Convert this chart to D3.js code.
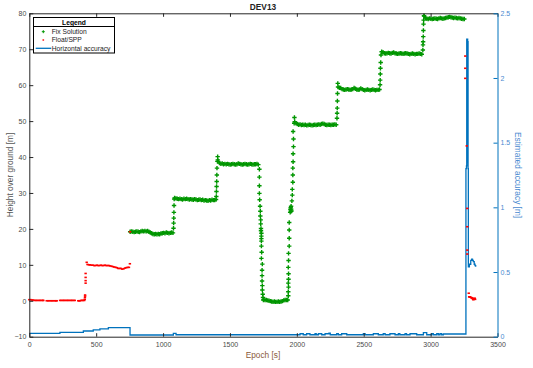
<!DOCTYPE html>
<html>
<head>
<meta charset="utf-8">
<script src="https://cdn.jsdelivr.net/npm/d3@7"></script>
<style>
  body { margin: 0; background: #fff; }
  svg { display: block; font-family: "Liberation Sans", Arial, sans-serif; }
</style>
</head>
<body>
<svg id="chart" width="533" height="368"></svg>
<script>
const width = 533;
const height = 368;

// x ticks / y ticks
const epochTicks = [0, 500, 1000, 1500, 2000, 2500, 3000, 3500];
const heightTicks = [-10, 0, 10, 20, 30, 40, 50, 60, 70, 80];
const accuracyTicks = [0, 0.5, 1, 1.5, 2, 2.5];

// Fix solution plateaus, sampled every 10 s: [start epoch, heights...]
const fixPlateau1 = [754, [19.2, 19.3, 19.2, 19.1, 19.2, 19.3, 19.2, 19.1, 19.3, 19.4, 19.3, 19.4, 19.3, 19.4, 19.2, 19.0, 18.8, 18.6, 18.5, 18.6, 18.5, 18.6, 18.5, 18.7, 18.8, 18.9, 18.8, 19.0, 18.9, 18.8, 18.9, 19.0, 18.9]];
const fixPlateau2 = [1086, [28.6, 28.5, 28.4, 28.3, 28.4, 28.3, 28.2, 28.4, 28.3, 28.4, 28.3, 28.2, 28.3, 28.2, 28.1, 28.3, 28.2, 28.0, 28.1, 28.2, 28.0, 28.1, 27.9, 28.0, 27.9, 27.8, 28.0, 27.9, 28.1, 28.0, 28.0, 28.2]];
const fixPlateau3 = [1412, [38.8, 38.3, 38.1, 38.2, 38.0, 38.1, 38.0, 38.1, 38.0, 37.9, 38.0, 38.1, 38.0, 37.9, 38.0, 38.2, 38.1, 38.0, 37.9, 38.0, 38.1, 38.0, 37.9, 38.0, 38.1, 38.0, 37.9, 38.0, 38.0, 38.1, 37.9]];
const fixPlateau4 = [1752, [0.3, 0.2, 0.2, 0.1, 0.0, -0.1, -0.2, -0.3, -0.2, -0.3, -0.3, -0.2, -0.3, -0.2, -0.1, 0.1, 0.2, 0.2, 0.2]];
const fixPlateau5 = [1984, [49.8, 49.4, 49.2, 49.0, 49.1, 48.9, 49.0, 48.9, 49.0, 48.8, 48.9, 49.0, 48.9, 48.8, 48.9, 49.0, 48.9, 49.0, 49.1, 49.0, 49.2, 49.3, 49.2, 49.0, 48.9, 49.0, 49.0, 48.9, 49.0, 49.0, 49.1, 49.0]];
const fixPlateau6 = [2308, [59.5, 59.3, 59.2, 58.9, 58.8, 58.7, 58.8, 58.9, 58.8, 58.7, 58.8, 58.9, 59.2, 59.0, 58.8, 58.7, 58.8, 59.1, 58.9, 58.7, 58.6, 58.7, 58.8, 58.7, 58.6, 58.7, 58.8, 58.7, 58.6, 58.7, 58.7, 58.8]];
const fixPlateau7 = [2634, [69.3, 69.2, 68.9, 68.8, 68.9, 69.0, 68.9, 68.8, 69.0, 69.1, 68.9, 68.8, 68.7, 68.8, 68.9, 68.8, 68.7, 68.8, 68.9, 68.8, 68.7, 68.6, 68.7, 68.8, 68.7, 68.6, 68.7, 68.7, 68.8, 68.7, 68.6]];
const fixPlateau8 = [2952, [79.2, 78.7, 78.5, 78.4, 78.6, 78.5, 78.4, 78.5, 78.6, 78.5, 78.4, 78.6, 78.7, 78.6, 78.5, 78.6, 78.7, 78.8, 78.9, 79.0, 78.9, 78.8, 78.7, 78.8, 78.7, 78.6, 78.7, 78.6, 78.5, 78.4, 78.4]];

// Fix solution transitions, [epoch, height]
const fixJump1 = [[1078, 20.2], [1079, 21.6], [1080, 23.0], [1081, 24.6], [1082, 26.5], [1083, 28.3]];
const fixJump2 = [[1398, 29.0], [1399, 30.4], [1400, 31.8], [1401, 33.2], [1402, 35.0], [1403, 36.9], [1406, 38.8], [1408, 40.1], [1409, 39.2]];
const fixDrop = [[1720, 36.6], [1720, 34.4], [1720, 32.0], [1720, 29.9], [1722, 28.1], [1725, 26.3], [1727, 24.9], [1727, 23.6], [1730, 22.5], [1730, 21.4], [1732, 20.1], [1732, 19.5], [1735, 18.8], [1735, 18.0], [1735, 17.3], [1735, 16.6], [1735, 15.2], [1737, 13.5], [1735, 11.8], [1742, 10.2], [1740, 8.5], [1740, 7.0], [1740, 5.5], [1742, 4.2], [1742, 3.0], [1745, 1.8], [1747, 0.9], [1750, 0.2]];
const fixRise = [[1936, 1.4], [1936, 2.5], [1938, 3.8], [1936, 4.9], [1938, 6.0], [1938, 7.5], [1936, 9.3], [1938, 11.2], [1938, 13.2], [1943, 15.2], [1943, 17.4], [1943, 19.7], [1943, 21.8], [1950, 24.6], [1952, 25.4], [1954, 25.9], [1955, 24.9], [1957, 26.3], [1958, 25.5], [1960, 25.0], [1963, 27.8], [1966, 29.4], [1966, 31.0], [1970, 33.0], [1970, 35.0], [1970, 36.9], [1972, 38.7], [1972, 40.9], [1975, 42.9], [1975, 45.0], [1972, 47.1], [1980, 49.4], [1982, 51.0]];
const fixJump3 = [[2300, 50.8], [2301, 52.2], [2302, 53.6], [2303, 55.6], [2304, 57.7], [2306, 60.5]];
const fixJump4 = [[2622, 60.1], [2623, 61.4], [2624, 63.1], [2625, 64.7], [2627, 66.3], [2629, 68.4]];
const fixJump5 = [[2942, 69.8], [2943, 71.2], [2944, 72.1], [2945, 73.5], [2946, 75.2], [2947, 77.0], [2948, 78.1], [2950, 79.3]];

// Float/SPP points, [epoch, height]
const floatStart = [[0, 0.3], [10, 0.3], [20, 0.2], [30, 0.2], [40, 0.1], [50, 0.1], [60, 0.1], [70, 0.1], [80, 0.1], [90, 0.1], [100, 0.1], [105, 0.1],
  [130, 0.0], [140, 0.0], [150, 0.0], [160, 0.0], [170, 0.0], [180, 0.0], [190, 0.0], [200, 0.0], [205, 0.0],
  [230, 0.1], [240, 0.1], [250, 0.1], [260, 0.1], [270, 0.1], [280, 0.1], [290, 0.1], [300, 0.1], [310, 0.1], [320, 0.1], [330, 0.1], [340, 0.1],
  [366, 0.0], [372, 0.0], [378, 0.0], [387, 0.1], [395, 0.1], [403, 0.1], [411, 0.1],
  [415, 0.4], [416, 0.9], [417, 1.3], [417, 1.6], [421, 4.9], [421, 5.6], [421, 6.5], [421, 7.6]];
const floatMid = [[429, 10.7], [435, 10.1], [445, 10.0], [455, 10.0], [465, 9.9], [475, 9.9], [485, 9.8], [495, 9.8], [505, 9.9], [515, 9.8], [525, 9.8], [535, 9.9], [545, 9.8], [555, 9.8], [565, 9.9], [575, 9.8], [585, 9.8], [595, 9.8], [605, 9.7], [615, 9.6], [625, 9.5], [635, 9.4], [645, 9.3], [655, 9.2], [665, 9.0], [675, 9.0], [685, 9.0], [695, 8.8], [705, 8.9], [715, 9.1], [725, 9.2], [735, 9.3], [745, 9.3], [752, 10.3], [753, 19.2]];
const floatEnd = [[3259, 68.1], [3259, 64.7], [3259, 61.9], [3270, 43.1], [3274, 25.7], [3274, 20.6], [3274, 14.1], [3274, 13.0], [3285, 2.1], [3288, 1.1], [3292, 1.0], [3296, 1.1], [3303, 0.9], [3308, 0.7], [3312, 0.8], [3316, 0.5], [3319, 0.3], [3322, 0.4], [3326, 0.6], [3330, 0.7], [3333, 0.4]];

// Horizontal accuracy (right axis), [epoch, metres]
const accuracy = [[0, 0.026], [229, 0.034], [404, 0.044], [478, 0.052], [528, 0.060], [591, 0.070], [753, 0.013],
  [1077, 0.026], [1097, 0.015], [2024, 0.023], [2048, 0.015], [2073, 0.023], [2098, 0.015], [2136, 0.023], [2145, 0.015],
  [2161, 0.023], [2186, 0.015], [2211, 0.023], [2240, 0.028], [2250, 0.015], [2298, 0.023], [2310, 0.015], [2335, 0.023],
  [2373, 0.015], [2497, 0.023], [2510, 0.015], [2572, 0.023], [2609, 0.015], [2646, 0.023], [2660, 0.015], [2696, 0.023],
  [2734, 0.015], [2759, 0.023], [2770, 0.015], [2809, 0.023], [2820, 0.015], [2846, 0.023], [2896, 0.015], [2946, 0.031],
  [2971, 0.015], [3008, 0.023], [3020, 0.015], [3046, 0.023], [3058, 0.015], [3070, 0.023], [3082, 0.015], [3095, 0.021],
  [3264, 1.30], [3268, 1.32], [3270, 2.30], [3271, 1.35], [3273, 2.30], [3274, 1.40], [3276, 2.30], [3277, 1.35], [3279, 2.28],
  [3280, 1.30], [3282, 0.54], [3290, 0.56], [3300, 0.59], [3307, 0.60], [3313, 0.59], [3319, 0.58], [3326, 0.56], [3332, 0.55], [3337, 0.54]];

const green = "#009600";
const red = "#ff0000";
const blue = "#0072bd";
const axisBlack = "#262626";

const svg = d3.select("#chart");

const x = d3.scaleLinear().domain([0, 3500]).range([29.3, 497.5]);
const yL = d3.scaleLinear().domain([-10, 80]).range([336.7, 13.3]);
const yR = d3.scaleLinear().domain([0, 2.5]).range([336.7, 13.3]);

function expand(plateau) {
    return plateau[1].map((h, i) => [plateau[0] + i * 10, h]);
}

const fixPoints = [fixPlateau1, fixPlateau2, fixPlateau3, fixPlateau4, fixPlateau5, fixPlateau6, fixPlateau7, fixPlateau8]
    .flatMap(expand)
    .concat(fixJump1, fixJump2, fixDrop, fixRise, fixJump3, fixJump4, fixJump5);
const floatPoints = floatStart.concat(floatMid, floatEnd);

// accuracy line
svg.append("path")
    .datum(accuracy)
    .attr("fill", "none")
    .attr("stroke", blue)
    .attr("stroke-width", 1.3)
    .attr("d", d3.line().x(d => x(d[0])).y(d => yR(d[1])).curve(d3.curveStepAfter));

// fix solution markers
const plus = "M-2.2,0H2.2M0,-2.2V2.2";
svg.append("g").selectAll("path")
    .data(fixPoints)
    .enter()
        .append("path")
        .attr("d", plus)
        .attr("transform", d => `translate(${x(d[0]).toFixed(2)},${yL(d[1]).toFixed(2)})`)
        .attr("stroke", green)
        .attr("stroke-width", 1.4)
        .attr("fill", "none");

// float markers
svg.append("g").selectAll("rect")
    .data(floatPoints)
    .enter()
        .append("rect")
        .attr("x", d => x(d[0]) - 1.2)
        .attr("y", d => yL(d[1]) - 0.8)
        .attr("width", 2.4)
        .attr("height", 1.6)
        .attr("fill", red);

// axes
const fontSize = 7;
function styleAxis(g, color) {
    g.select(".domain").attr("stroke", color).attr("stroke-width", 1);
    g.selectAll(".tick line").attr("stroke", color);
    g.selectAll(".tick text").attr("fill", color).attr("font-size", fontSize).attr("font-family", null);
}

svg.append("g")
    .attr("transform", `translate(0,${yL(-10)})`)
    .call(d3.axisBottom(x).tickValues(epochTicks).tickFormat(d3.format("d"))
        .tickSizeInner(-3.5).tickSizeOuter(0).tickPadding(5))
    .call(g => styleAxis(g, axisBlack))
    .call(g => g.selectAll(".tick text").attr("fill", "#4a4a4a"));

svg.append("g")
    .attr("transform", `translate(0,${yL(80)})`)
    .call(d3.axisTop(x).tickValues(epochTicks).tickSizeInner(-3.5).tickSizeOuter(0).tickFormat(""))
    .call(g => styleAxis(g, axisBlack));

svg.append("g")
    .attr("transform", `translate(${x(0)},0)`)
    .call(d3.axisLeft(yL).tickValues(heightTicks).tickFormat(d3.format("d"))
        .tickSizeInner(-4).tickSizeOuter(0).tickPadding(3))
    .call(g => styleAxis(g, axisBlack))
    .call(g => g.selectAll(".tick text").attr("fill", "#4a4a4a"));

svg.append("g")
    .attr("transform", `translate(${x(3500)},0)`)
    .call(d3.axisRight(yR).tickValues(accuracyTicks).tickFormat(d => String(d))
        .tickSizeInner(-4).tickSizeOuter(0).tickPadding(3))
    .call(g => styleAxis(g, blue))
    .call(g => g.selectAll(".tick text").attr("fill", "#4a8ad0"));

// titles and labels
svg.append("text")
    .attr("x", 263).attr("y", 9.5)
    .attr("text-anchor", "middle")
    .attr("font-size", 8.3).attr("font-weight", "bold")
    .attr("fill", "#222")
    .text("DEV13");

svg.append("text")
    .attr("x", 263).attr("y", 358)
    .attr("text-anchor", "middle")
    .attr("font-size", 8.3)
    .attr("fill", "#8a5a3a")
    .text("Epoch [s]");

svg.append("text")
    .attr("transform", "translate(12.5,175) rotate(-90)")
    .attr("text-anchor", "middle")
    .attr("font-size", 8.3)
    .attr("fill", "#555")
    .text("Height over ground [m]");

svg.append("text")
    .attr("transform", "translate(514.5,175) rotate(90)")
    .attr("text-anchor", "middle")
    .attr("font-size", 8.3)
    .attr("fill", "#4a8ad0")
    .text("Estimated accuracy [m]");

// legend
const legend = svg.append("g");
legend.append("rect")
    .attr("x", 33.5).attr("y", 17.5).attr("width", 81).attr("height", 35.5)
    .attr("fill", "#fff").attr("stroke", "#000").attr("stroke-width", 1);
legend.append("line")
    .attr("x1", 33.5).attr("x2", 114.5).attr("y1", 26.5).attr("y2", 26.5)
    .attr("stroke", "#000");
legend.append("text")
    .attr("x", 74).attr("y", 24.5)
    .attr("text-anchor", "middle")
    .attr("font-size", 6.7).attr("font-weight", "bold")
    .text("Legend");

const legendItems = ["Fix Solution", "Float/SPP", "Horizontal accuracy"];
legend.selectAll("text.item")
    .data(legendItems)
    .enter()
        .append("text")
        .attr("class", "item")
        .attr("x", 51.7)
        .attr("y", (d, i) => 34 + i * 8.3)
        .attr("font-size", 6.7)
        .attr("fill", "#222")
        .text(d => d);

legend.append("path")
    .attr("d", "M-1.5,0H1.5M0,-1.5V1.5")
    .attr("transform", "translate(43.3,31.7)")
    .attr("stroke", green).attr("fill", "none");
legend.append("rect")
    .attr("x", 42.5).attr("y", 39.3).attr("width", 1.6).attr("height", 1.4)
    .attr("fill", red);
legend.append("line")
    .attr("x1", 35.7).attr("x2", 51.3).attr("y1", 48.3).attr("y2", 48.3)
    .attr("stroke", blue).attr("stroke-width", 1.3);
</script>
</body>
</html>
